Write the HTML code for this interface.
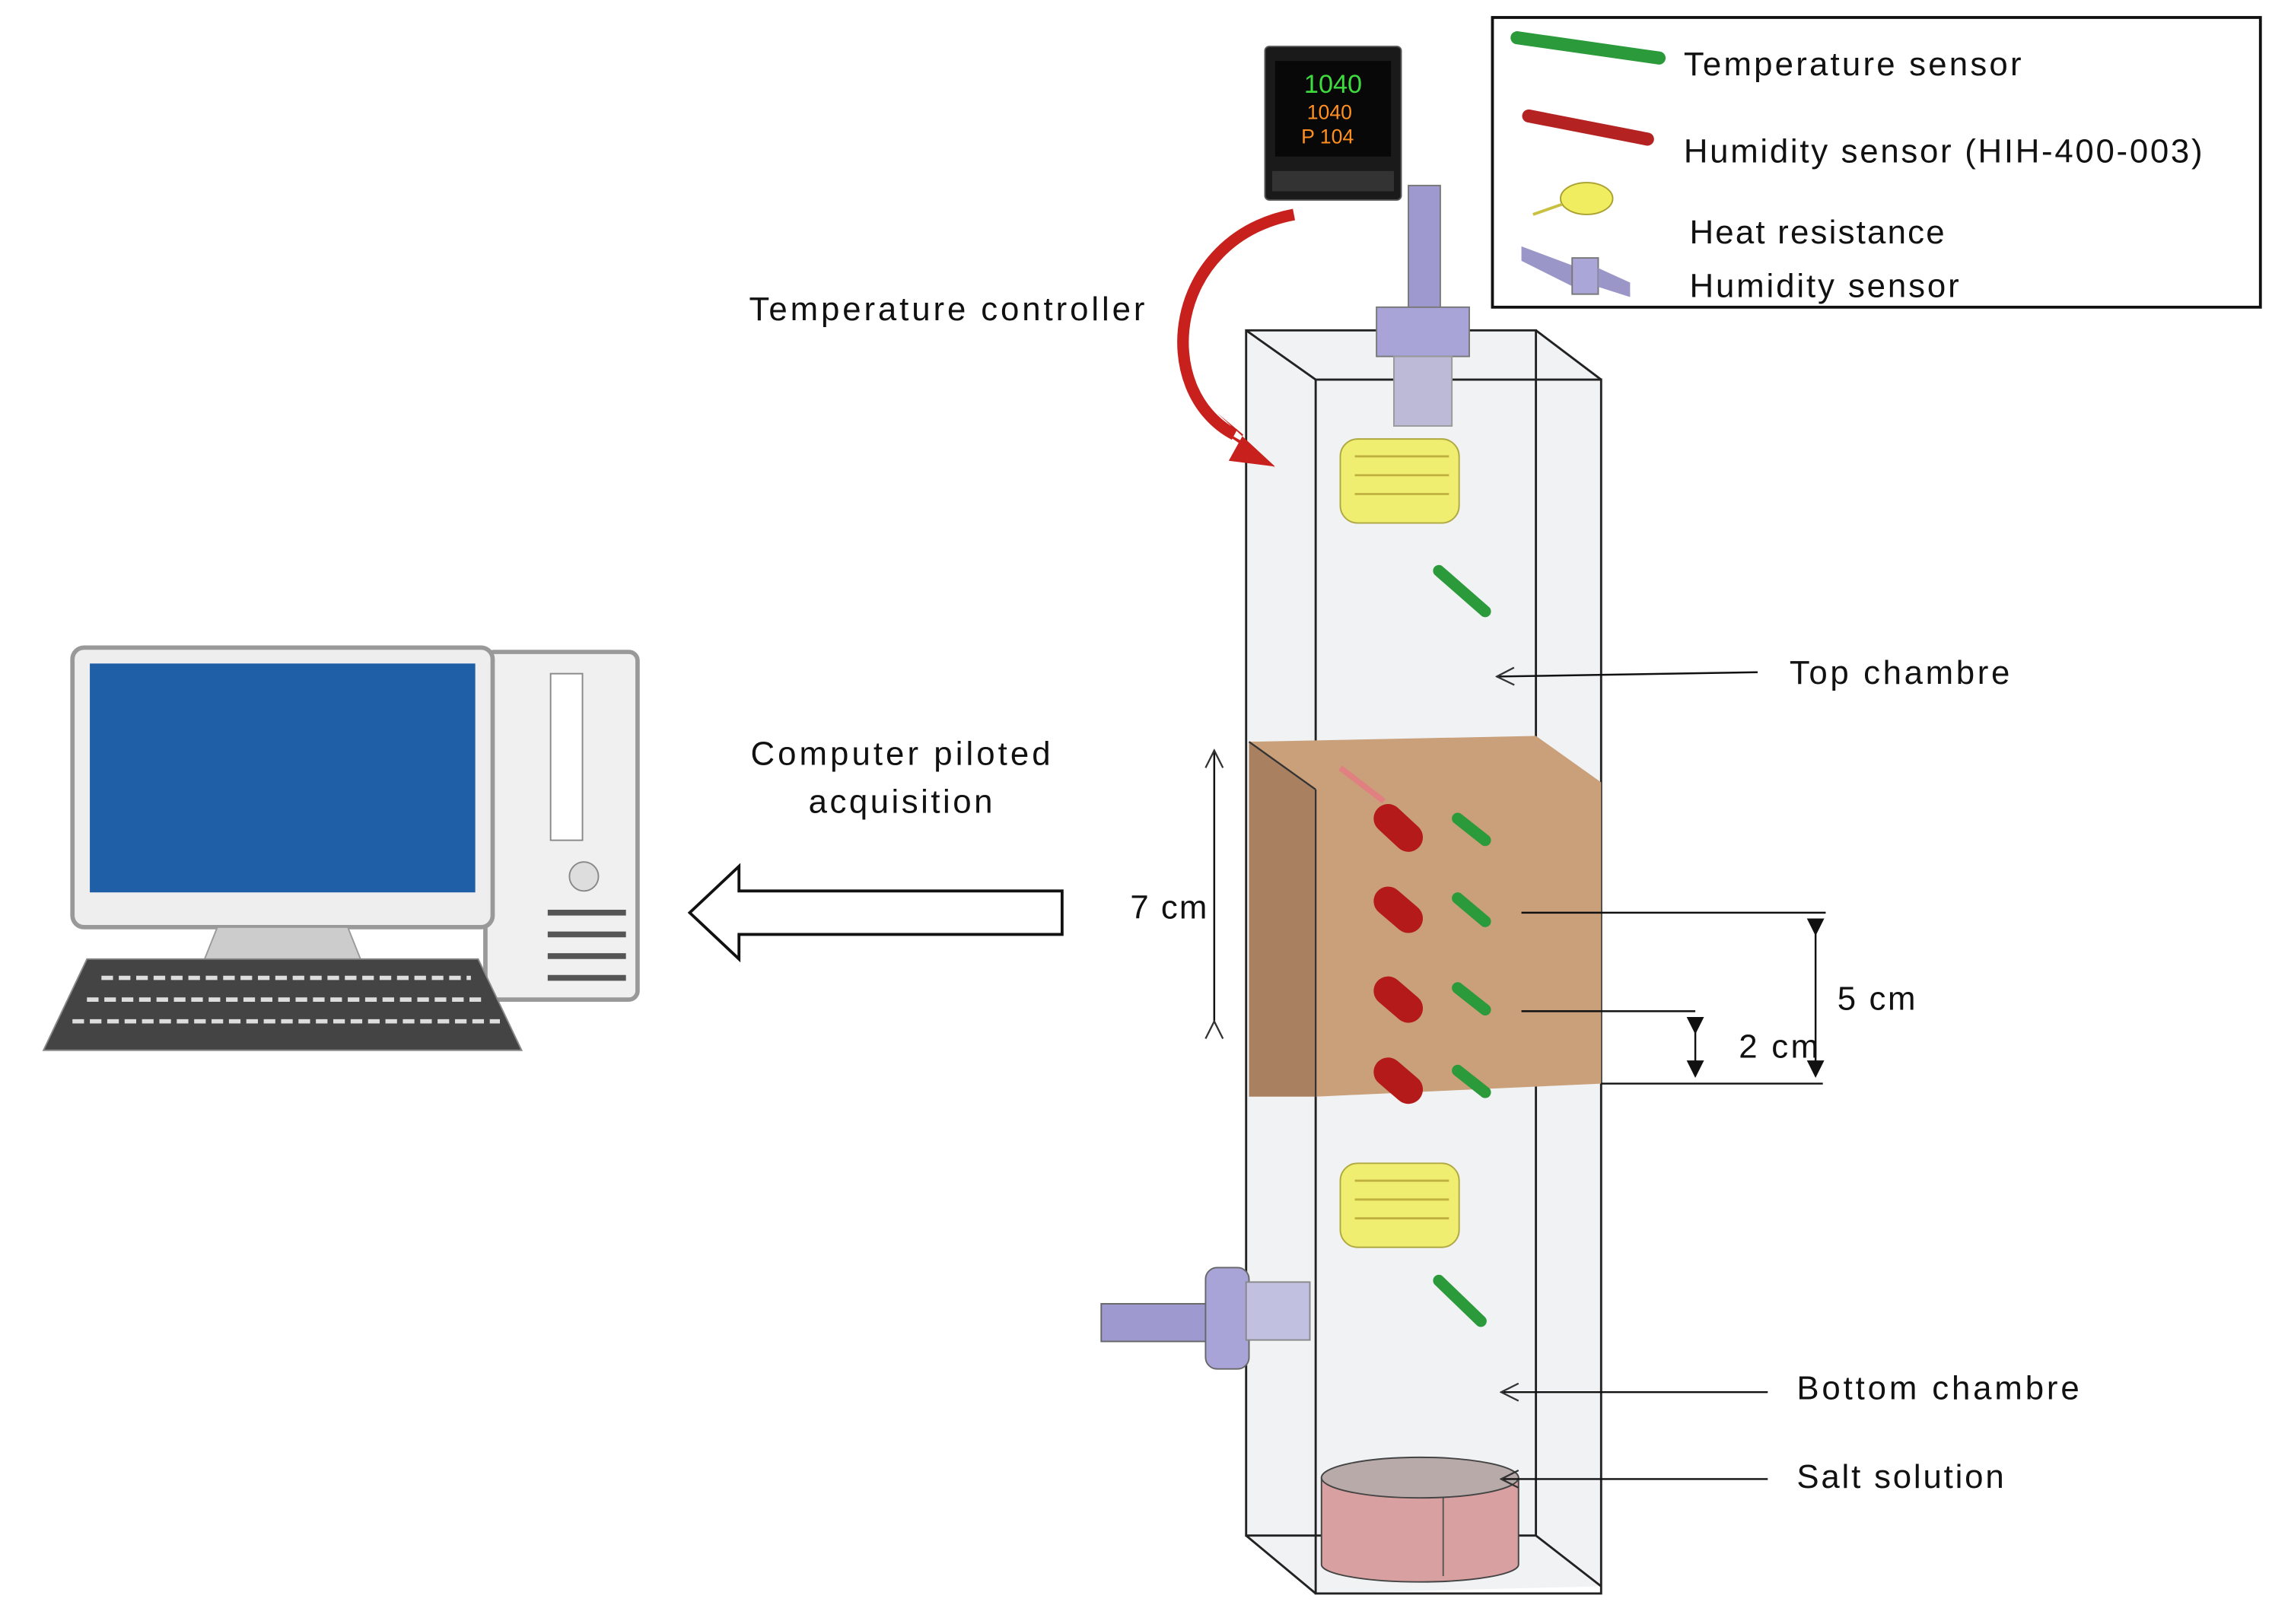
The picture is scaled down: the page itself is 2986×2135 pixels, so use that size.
<!DOCTYPE html>
<html><head><meta charset="utf-8"><style>
html,body{margin:0;padding:0;background:#fff;}
svg{display:block;}
text{font-family:"Liberation Sans","DejaVu Sans",sans-serif;fill:#111;}
</style></head><body>
<svg width="2986" height="2135" viewBox="0 0 1568 1121" xmlns="http://www.w3.org/2000/svg">
<defs>
<marker id="oa" markerWidth="14" markerHeight="14" refX="1" refY="7" orient="auto" markerUnits="userSpaceOnUse"><path d="M13,1 L1,7 L13,13" fill="none" stroke="#333" stroke-width="1.2"/></marker>
<marker id="fa" markerWidth="12" markerHeight="12" refX="6" refY="6" orient="auto" markerUnits="userSpaceOnUse"><path d="M0,0 L12,6 L0,12 z" fill="#111"/></marker>
</defs>
<!-- legend -->
<rect x="1030" y="12" width="530" height="200" fill="#fff" stroke="#111" stroke-width="2"/>
<line x1="1047" y1="26" x2="1145" y2="40" stroke="#2a9a3a" stroke-width="9" stroke-linecap="round"/>
<line x1="1055" y1="80" x2="1137" y2="96" stroke="#b52222" stroke-width="9" stroke-linecap="round"/>
<ellipse cx="1095" cy="137" rx="18" ry="11" fill="#f0ee60" stroke="#aaa030"/>
<line x1="1058" y1="148" x2="1078" y2="141" stroke="#c8c040" stroke-width="2"/>
<path d="M1050,170 L1090,185 L1090,200 L1050,180 z" fill="#9a96c8"/>
<rect x="1085" y="178" width="18" height="25" fill="#aaa6d8" stroke="#777"/>
<path d="M1103,185 L1125,195 L1125,205 L1103,198 z" fill="#9a96c8"/>
<text x="1162" y="52" font-size="23" textLength="233">Temperature sensor</text>
<text x="1162" y="112" font-size="23" textLength="358">Humidity sensor (HIH-400-003)</text>
<text x="1166" y="168" font-size="23" textLength="176">Heat resistance</text>
<text x="1166" y="205" font-size="23" textLength="186">Humidity sensor</text>
<!-- controller -->
<rect x="873" y="32" width="94" height="106" rx="3" fill="#1a1a1a" stroke="#555"/>
<rect x="880" y="42" width="80" height="66" fill="#080808"/>
<text x="900" y="64" font-size="18" style="fill:#3fdc3f" font-family="Liberation Mono">1040</text>
<text x="902" y="82" font-size="14" style="fill:#ff9020" font-family="Liberation Mono">1040</text>
<text x="898" y="99" font-size="14" style="fill:#ff9020" font-family="Liberation Mono">P 104</text>
<rect x="878" y="118" width="84" height="14" fill="#333"/>
<text x="517" y="221" font-size="23" textLength="273">Temperature controller</text>
<!-- column -->
<path d="M860,228 L1060,228 L1105,262 L1105,1095 L908,1100 L860,1060 z" fill="#f1f2f4"/>
<g fill="none" stroke="#222" stroke-width="1.5">
<rect x="860" y="228" width="200" height="832"/>
<rect x="908" y="262" width="197" height="838"/>
<line x1="860" y1="228" x2="908" y2="262"/><line x1="1060" y1="228" x2="1105" y2="262"/>
<line x1="860" y1="1060" x2="908" y2="1100"/><line x1="1060" y1="1060" x2="1105" y2="1095"/>
</g>
<!-- red arrow -->
<path d="M893,148 C805,165 795,270 852,300" fill="none" stroke="#c8201c" stroke-width="8"/>
<path d="M840,285 L880,322 L848,318 L858,300 z" fill="#c8201c"/>
<path d="M835,292 L880,323 L858,305 z" fill="#c8201c"/>
<!-- top fitting -->
<rect x="972" y="128" width="22" height="90" fill="#9e9ad0" stroke="#777"/>
<rect x="950" y="212" width="64" height="34" fill="#a8a4d8" stroke="#777"/>
<rect x="962" y="246" width="40" height="48" fill="#bdbad8" stroke="#999"/>
<!-- heaters -->
<g fill="#f0ee70" stroke="#b0a840">
<rect x="925" y="303" width="82" height="58" rx="12"/>
<rect x="925" y="803" width="82" height="58" rx="12"/>
</g>
<g stroke="#c0b040" stroke-width="1.5">
<line x1="935" y1="315" x2="1000" y2="315"/><line x1="935" y1="328" x2="1000" y2="328"/><line x1="935" y1="341" x2="1000" y2="341"/>
<line x1="935" y1="815" x2="1000" y2="815"/><line x1="935" y1="828" x2="1000" y2="828"/><line x1="935" y1="841" x2="1000" y2="841"/>
</g>
<!-- brown block -->
<rect x="862" y="512" width="46" height="245" fill="#a98060"/>
<path d="M862,512 L1060,508 L1105,540 L1105,748 L908,757 L908,545 z" fill="#c9a07a"/>
<g fill="none" stroke="#333" stroke-width="1.2"><line x1="908" y1="545" x2="908" y2="757"/><line x1="862" y1="512" x2="908" y2="545"/></g>
<!-- temp sensors -->
<g stroke="#2a9a3a" stroke-width="8" stroke-linecap="round">
<line x1="993" y1="394" x2="1025" y2="422"/>
<line x1="993" y1="884" x2="1022" y2="912"/>
<line x1="1006" y1="565" x2="1025" y2="580"/>
<line x1="1006" y1="620" x2="1025" y2="636"/>
<line x1="1006" y1="682" x2="1025" y2="697"/>
<line x1="1006" y1="739" x2="1025" y2="754"/>
</g>
<!-- red sensors -->
<g stroke="#b51a1a" stroke-width="20" stroke-linecap="round">
<line x1="958" y1="565" x2="972" y2="578"/>
<line x1="958" y1="622" x2="972" y2="634"/>
<line x1="958" y1="684" x2="972" y2="696"/>
<line x1="958" y1="740" x2="972" y2="752"/>
</g>
<line x1="925" y1="530" x2="955" y2="553" stroke="#e08080" stroke-width="4"/>
<!-- salt dish -->
<path d="M912,1020 L912,1080 A68,12 0 0 0 1048,1080 L1048,1020 z" fill="#d8a0a0" stroke="#444"/>
<line x1="996" y1="1032" x2="996" y2="1088" stroke="#555"/>
<ellipse cx="980" cy="1020" rx="68" ry="14" fill="#b8aaa8" stroke="#444"/>
<!-- side humidity sensor -->
<rect x="760" y="900" width="80" height="26" fill="#9e9ad0" stroke="#666"/>
<rect x="832" y="875" width="30" height="70" rx="8" fill="#a8a4d8" stroke="#666"/>
<rect x="860" y="885" width="44" height="40" fill="#c2c0e0" stroke="#888"/>
<!-- dimension lines -->
<g stroke="#111" stroke-width="1.3" fill="none">
<line x1="838" y1="518" x2="838" y2="705" marker-start="url(#oa)" marker-end="url(#oa)"/>
<line x1="1050" y1="630" x2="1260" y2="630"/>
<line x1="1050" y1="698" x2="1170" y2="698"/>
<line x1="1105" y1="748" x2="1258" y2="748"/>
<line x1="1253" y1="640" x2="1253" y2="738" marker-start="url(#fa)" marker-end="url(#fa)"/>
<line x1="1170" y1="708" x2="1170" y2="738" marker-start="url(#fa)" marker-end="url(#fa)"/>
<line x1="1033" y1="467" x2="1213" y2="464" marker-start="url(#oa)"/>
<line x1="1036" y1="961" x2="1220" y2="961" marker-start="url(#oa)"/>
<line x1="1036" y1="1021" x2="1220" y2="1021" marker-start="url(#oa)"/>
</g>
<text x="780" y="634" font-size="23" textLength="53">7 cm</text>
<text x="1268" y="697" font-size="23" textLength="54">5 cm</text>
<text x="1200" y="730" font-size="23" textLength="55">2 cm</text>
<text x="1235" y="472" font-size="23" textLength="152">Top chambre</text>
<text x="1240" y="966" font-size="23" textLength="195">Bottom chambre</text>
<text x="1240" y="1027" font-size="23" textLength="143">Salt solution</text>
<text x="518" y="528" font-size="23" textLength="207">Computer piloted</text>
<text x="558" y="561" font-size="23" textLength="127">acquisition</text>
<!-- hollow arrow -->
<path d="M733,615 L733,645 L510,645 L510,662 L476,630 L510,598 L510,615 z" fill="#fff" stroke="#111" stroke-width="2"/>
<!-- computer -->
<rect x="335" y="450" width="105" height="240" rx="6" fill="#f0f0f0" stroke="#999" stroke-width="3"/>
<rect x="380" y="465" width="22" height="115" fill="#fff" stroke="#888"/>
<circle cx="403" cy="605" r="10" fill="#ddd" stroke="#888"/>
<g stroke="#555" stroke-width="4"><line x1="378" y1="630" x2="432" y2="630"/><line x1="378" y1="645" x2="432" y2="645"/><line x1="378" y1="660" x2="432" y2="660"/><line x1="378" y1="675" x2="432" y2="675"/></g>
<rect x="50" y="447" width="290" height="193" rx="8" fill="#eee" stroke="#999" stroke-width="3"/>
<rect x="62" y="458" width="266" height="158" fill="#1f5fa8"/>
<path d="M150,640 L240,640 L250,665 L140,665 z" fill="#ccc" stroke="#999"/>
<path d="M60,662 L330,662 L360,725 L30,725 z" fill="#444" stroke="#888"/>
<g stroke="#ddd" stroke-width="3" stroke-dasharray="8,4"><line x1="70" y1="675" x2="325" y2="675"/><line x1="60" y1="690" x2="335" y2="690"/><line x1="50" y1="705" x2="345" y2="705"/></g>
</svg>
</body></html>
